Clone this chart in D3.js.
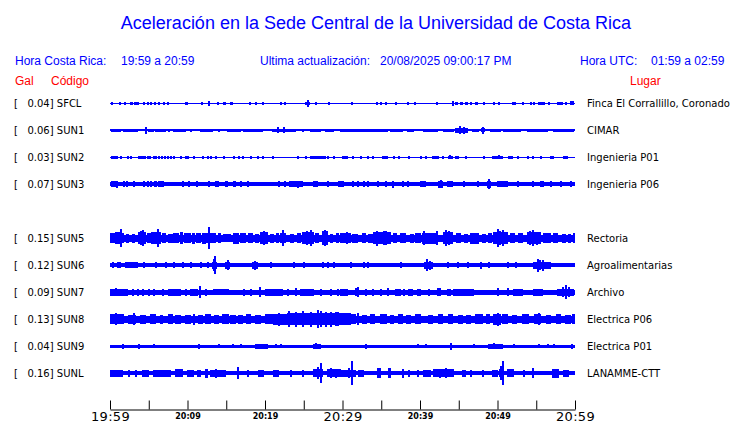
<!DOCTYPE html>
<html><head><meta charset="utf-8">
<script src="https://cdn.jsdelivr.net/npm/d3@7"></script>
<style>
body{margin:0;background:#fff;}
svg{display:block;}
text{white-space:pre;}
</style></head>
<body>
<svg id="c" width="740" height="423"></svg>
<script>
// ---- DATA ----
const title = "Aceleración en la Sede Central de la Universidad de Costa Rica";
const headerLocal = ["Hora Costa Rica:", "19:59 a 20:59"];
const headerUpdate = ["Ultima actualización:", "20/08/2025 09:00:17 PM"];
const headerUTC = ["Hora UTC:", "01:59 a 02:59"];
const codes  = ["SFCL","SUN1","SUN2","SUN3","SUN5","SUN6","SUN7","SUN8","SUN9","SUNL"];
const peaks  = [0.04, 0.06, 0.03, 0.07, 0.15, 0.12, 0.09, 0.13, 0.04, 0.16];
const places = ["Finca El Corrallillo, Coronado","CIMAR","Ingenieria P01","Ingenieria P06",
                "Rectoria","Agroalimentarias","Archivo","Electrica P06","Electrica P01","LANAMME-CTT"];
const rows   = [0,1,2,3,5,6,7,8,9,10];
// background noise half-amplitude of each trace (relative units)
const baseAmp = [0.5, 1.0, 0.5, 2.0, 3.5, 1.9, 2.2, 3.8, 1.7, 2.1];
// samples: 465 samples over the hour (one every ~7.74 s)
const nSamples = 465;
const tStart = "2025-08-20T19:59:00", tEnd = "2025-08-20T20:59:00";
const tickEveryMin = 5;
const bigTickLabels = ["19:59","20:29","20:59"];
const smallTickLabels = ["20:09","20:19","20:39","20:49"];
// events: [firstSample, lastSample, halfAmplitude]
const evSFCL = [[1,1,1.5],[9,9,1.5],[14,14,1.5],[20,22,1.5],[24,28,1.5],[33,33,1.5],[37,37,1.5],[40,40,1.5],[44,44,1.5],[48,48,1.5],[53,53,1.5],[57,57,1.5],[75,77,1.5],[91,91,1.5],[98,98,2.3],[107,107,1.5],[113,115,1.5],[120,122,1.5],[139,139,1.5],[145,145,1.5],[152,152,1.5],[170,170,1.5],[174,174,1.5],[195,199,1.5],[197,197,3.3],[205,205,1.5],[218,218,1.5],[241,241,1.5],[266,266,1.5],[270,270,1.5],[275,275,1.5],[285,285,1.5],[297,297,1.5],[304,304,1.5],[326,326,1.5],[342,342,2.5],[345,347,1.5],[350,352,1.5],[355,357,1.5],[360,360,1.5],[365,367,1.5],[373,373,1.5],[383,383,1.5],[388,388,1.5],[402,402,1.5],[404,404,1.5],[412,412,1.5],[420,420,1.5],[423,423,1.5],[428,434,1.5],[438,438,1.5],[447,452,1.5],[455,455,1.5],[460,463,2]];
const evSUN1 = [[1,10,1.5],[13,27,1.5],[35,35,3.5],[38,43,1.5],[45,55,1.5],[58,58,1.5],[63,75,1.5],[80,80,1.5],[90,102,1.5],[108,108,1.5],[117,130,1.5],[133,152,1.5],[162,185,1.5],[167,167,3],[173,173,3],[192,192,1.5],[200,210,1.5],[215,223,1.5],[230,277,1.5],[280,292,1.5],[297,303,1.5],[313,327,1.5],[333,343,1.5],[345,357,2.5],[349,349,4],[353,353,3.5],[362,368,1.5],[371,374,2],[372,372,3.5],[380,390,1.5],[393,410,1.5],[417,437,1.5],[443,463,1.5]];
const evSUN2 = [[1,7,1.5],[10,10,1.5],[17,17,1.5],[20,20,1.5],[28,35,1.5],[37,40,1.5],[43,43,1.5],[45,45,1.5],[48,48,1.5],[51,51,1.5],[54,54,1.5],[57,57,1.5],[60,60,1.5],[63,63,1.5],[70,70,1.5],[75,78,1.5],[83,83,1.5],[92,92,1.5],[97,97,1.5],[100,100,1.5],[105,105,1.5],[113,113,1.5],[123,123,1.5],[128,128,1.5],[132,133,1.5],[140,140,1.5],[147,147,1.5],[152,152,1.5],[162,162,1.5],[187,187,1.5],[195,195,1.5],[200,215,1.5],[217,217,1.5],[223,223,1.5],[232,237,1.5],[242,242,1.5],[250,250,1.5],[257,257,1.5],[262,263,1.5],[272,277,1.5],[283,283,1.5],[288,288,1.5],[298,298,1.5],[310,310,1.5],[315,315,1.5],[322,328,1.5],[332,332,1.5],[338,342,1.5],[339,339,2],[345,348,1.5],[355,355,1.5],[373,373,1.5],[382,392,1.5],[388,388,2],[398,402,1.5],[407,407,1.5],[417,417,1.5],[422,422,1.5],[430,430,1.5],[440,443,1.5],[453,457,1.5]];
const evSUN3 = [[1,7,3],[6,6,3.5],[13,13,3],[16,16,3],[23,23,3],[33,33,3],[37,37,3],[40,40,3],[44,46,3],[48,53,3],[72,73,3],[78,79,3],[86,87,3],[98,98,3],[105,108,3],[115,117,3],[123,125,3],[130,130,3],[137,137,3],[168,168,3],[174,174,3],[179,192,3],[187,187,3.5],[203,207,3],[217,217,3],[228,228,3],[230,233,3],[242,242,3],[247,247,3],[253,253,3],[257,257,3],[267,267,3],[275,275,3],[282,282,3.8],[292,292,3],[297,297,3],[310,315,3],[328,332,3.2],[330,330,4],[337,342,3],[353,353,3],[367,367,3],[377,380,3.2],[378,378,5],[387,397,3],[407,407,3],[422,422,3],[430,433,3],[440,440,3],[450,450,3],[460,460,3]];
const evSUN5 = [[0,4,5],[5,9,6],[10,10,9],[11,13,5],[16,18,4.5],[22,24,4.5],[28,35,6],[30,30,7],[32,32,8],[37,40,5],[41,43,6],[44,50,6],[47,47,9],[52,55,5],[58,62,4.5],[63,68,5],[70,72,6],[74,80,5],[82,84,5.5],[86,90,5],[92,95,5.5],[96,105,5],[98,98,11],[108,110,5],[113,120,4],[123,128,5.5],[130,135,5],[138,142,5],[145,148,4.5],[150,157,6],[153,153,7],[160,163,4.5],[166,168,5],[170,175,5],[172,172,8],[180,183,4.5],[187,190,5],[192,203,6],[196,196,7],[200,200,8],[205,208,5],[212,217,7],[214,214,8],[220,222,4.5],[226,228,5],[230,240,5],[236,236,6],[242,247,4.5],[252,255,5],[258,262,4.5],[263,280,6],[266,266,7.5],[273,273,7],[275,275,7],[283,286,5],[290,295,5],[300,303,4.5],[305,310,5],[312,327,5.5],[313,313,7],[326,326,7],[333,342,6],[335,335,8],[338,338,7],[346,350,5],[354,357,4.5],[360,368,5.5],[372,375,4.5],[378,381,5],[383,397,6],[387,387,9],[389,389,7],[392,392,8],[400,404,5],[408,412,5],[417,430,6],[419,419,7],[422,422,8],[426,426,6.5],[433,440,5],[443,447,5],[452,455,4.5],[458,460,4.5],[463,465,5]];
const evSUN6 = [[2,2,3],[7,10,3],[15,27,3],[33,33,3],[45,45,3],[55,55,3],[63,63,3],[72,72,3],[80,80,3],[90,90,3],[97,97,3],[102,106,3.5],[103,103,6],[104,104,9],[115,119,3.5],[117,117,5],[142,147,3.5],[144,144,4.5],[160,160,3],[183,183,3],[193,193,3],[212,212,3],[217,217,3],[223,223,3],[240,240,3],[253,253,3],[257,257,3],[290,290,3],[314,322,3.5],[316,316,6],[319,319,4.5],[337,337,3],[347,347,3],[357,358,3],[370,370,3.5],[378,378,3],[397,397,3],[405,405,3],[423,440,3.5],[427,427,6.5],[429,429,5],[432,432,5.5]];
const evSUN7 = [[0,17,3.2],[5,5,4],[22,22,3.5],[27,27,3.5],[32,32,3.5],[38,38,3.5],[43,43,3.5],[52,52,3.5],[58,70,3.2],[75,75,3.5],[80,87,3.2],[89,89,6],[95,95,3.5],[103,118,3],[133,133,3.5],[140,140,3.5],[149,149,5],[155,172,3.2],[177,177,3.5],[185,185,4],[190,203,3.2],[210,210,3.5],[220,220,3.5],[227,227,3.5],[230,237,3.2],[245,248,4],[247,247,5],[255,255,3.5],[262,262,3.5],[270,270,3.5],[277,278,4],[285,290,3.2],[293,293,3.5],[298,302,3.2],[307,310,3.2],[318,318,3.5],[327,330,4],[337,340,3.2],[343,352,3.8],[353,363,3.2],[387,387,4],[397,397,4],[403,412,3.2],[423,432,3.2],[447,463,3.2],[452,452,5],[455,455,7],[458,458,5]];
const evSUN8 = [[0,13,5],[5,5,6],[18,25,4.5],[23,23,6],[30,35,4.5],[40,45,5],[50,52,4.5],[58,62,5],[65,70,4.5],[75,80,4.5],[83,83,5.5],[88,92,4.5],[95,100,5],[104,108,4.5],[112,118,5],[120,125,4.5],[128,132,4.5],[136,140,5],[145,150,4.5],[155,162,5],[163,177,5.5],[168,168,6.5],[177,240,6],[178,178,8],[185,185,7.5],[192,192,8],[200,200,7.5],[207,207,9],[210,210,8],[215,215,7.5],[220,220,7.5],[225,228,7],[232,236,5],[240,245,5],[247,247,6],[252,256,4.5],[260,264,5],[270,276,5],[280,283,4.5],[288,292,5],[296,300,4.5],[305,310,5],[318,322,4.5],[328,332,5],[338,342,5],[348,352,4.5],[356,360,4.5],[365,372,5],[376,379,5],[383,390,5.5],[387,387,6.5],[392,397,5],[402,406,4.5],[412,418,5],[424,430,5],[428,428,6],[436,440,4.5],[446,450,5],[455,460,4.5],[462,465,5]];
const evSUN9 = [[12,12,2.2],[28,28,2.2],[43,43,2],[88,88,2.5],[108,108,2],[122,122,2],[130,130,2],[145,157,2.2],[165,165,2],[170,170,2],[203,210,2.5],[205,205,3],[255,255,2.5],[307,307,2],[315,315,2],[340,340,3.5],[363,363,2],[378,392,2.3],[383,383,3],[403,403,2],[428,428,2],[437,437,2],[443,443,2],[461,461,2.2]];
const evSUNL = [[0,12,3.5],[18,18,3.5],[25,25,3.5],[32,38,3.5],[43,60,3.5],[65,72,4],[77,83,3.5],[87,90,3.5],[95,97,4.5],[100,115,3.5],[105,105,4.5],[127,127,6],[137,137,3.5],[148,153,3.5],[163,168,3.5],[180,180,3.5],[192,192,3.5],[203,212,4],[207,207,6],[210,210,10],[217,230,4],[220,220,5],[225,225,4.5],[230,245,3.5],[238,238,5],[241,241,12],[248,253,3.5],[267,270,5],[278,280,5],[292,293,4.5],[298,298,3.5],[307,307,3.5],[313,320,3.5],[323,343,4],[329,329,4.5],[335,335,5],[352,355,3.5],[360,360,3.5],[372,372,3.5],[382,387,3.5],[389,393,4],[390,390,7],[392,392,12],[397,403,4],[413,413,3.5],[422,422,5],[442,448,4.5],[453,458,3.5]];
const events = [evSFCL, evSUN1, evSUN2, evSUN3, evSUN5, evSUN6, evSUN7, evSUN8, evSUN9, evSUNL];

// ---- DRAW ----
const svg = d3.select("#c");
const blue = "#0000ff", red = "#ff0000";
const sansA = "'Liberation Sans', Arial, Helvetica, sans-serif";
const sansD = "'DejaVu Sans', sans-serif";

const xS = d3.scaleLinear().domain([0, nSamples]).range([110, 575]);
const t0 = new Date(tStart), t1 = new Date(tEnd);
const xT = d3.scaleTime().domain([t0, t1]).range([110, 575]);
const yRow = d3.scaleLinear().domain([0, 10]).range([103.3, 373.3]);
const amp = d3.scaleLinear().domain([0, 10]).range([0, 10]);

svg.append("text").attr("x", 376).attr("y", 29).attr("text-anchor", "middle")
  .attr("font-family", sansA).attr("font-size", 18).attr("fill", blue).text(title);

function hdr(x, y, s, col, anchor) {
  svg.append("text").attr("x", x).attr("y", y).attr("font-family", sansA).attr("font-size", 12)
    .attr("fill", col).attr("text-anchor", anchor || "start").text(s);
}
hdr(15, 64.5, headerLocal[0], blue); hdr(121, 64.5, headerLocal[1], blue);
hdr(260, 64.5, headerUpdate[0], blue); hdr(380, 64.5, headerUpdate[1], blue);
hdr(580, 64.5, headerUTC[0], blue); hdr(651, 64.5, headerUTC[1], blue);
hdr(15, 84.5, "Gal", red); hdr(51, 84.5, "Código", red); hdr(630, 84.5, "Lugar", red);

const tr = svg.append("g").attr("shape-rendering", "crispEdges");
codes.forEach((c, i) => {
  const yc = yRow(rows[i]);
  svg.append("text").attr("x", 14).attr("y", yc + 3.8).attr("font-family", sansD).attr("font-size", 10)
    .attr("fill", "#000").text("[   " + peaks[i].toFixed(2) + "] " + c);
  svg.append("text").attr("x", 587).attr("y", yc + 3.8).attr("font-family", sansD).attr("font-size", 10)
    .attr("fill", "#000").text(places[i]);
  const g = tr.append("g");
  const b = Math.max(0.5, amp(baseAmp[i]));
  g.append("rect").attr("x", xS(0)).attr("width", xS(nSamples) - xS(0))
    .attr("y", yc - b).attr("height", 2 * b).attr("fill", blue);
  g.selectAll("rect.ev").data(events[i]).join("rect").attr("class", "ev")
    .attr("x", d => xS(d[0]))
    .attr("width", d => Math.min(xS(nSamples), xS(d[1] + 1)) - xS(d[0]) + (d[0] === d[1] ? 0.6 : 0))
    .attr("y", d => yc - amp(d[2])).attr("height", d => 2 * amp(d[2])).attr("fill", blue);
});

// time axis
const fmt = d3.timeFormat("%H:%M");
const tickVals = d3.range(0, 61, tickEveryMin).map(m => d3.timeMinute.offset(t0, m));
const axis = d3.axisBottom(xT).tickValues(tickVals).tickSizeInner(-9).tickSizeOuter(0)
  .tickPadding(3).tickFormat(fmt);
const ag = svg.append("g").attr("transform", "translate(0,409.5)").call(axis);
ag.select(".domain").attr("stroke", "#000");
ag.selectAll(".tick line").attr("stroke", "#000");
ag.selectAll(".tick").each(function(d) {
  const t = d3.select(this).select("text");
  const lab = fmt(d);
  t.attr("fill", "#000").attr("font-family", sansD);
  if (bigTickLabels.includes(lab)) {
    t.attr("font-size", 13).attr("dy", null).attr("y", 11).attr("letter-spacing", 0.3);
  } else if (smallTickLabels.includes(lab)) {
    t.attr("font-size", 8).attr("font-weight", "bold").attr("dy", null).attr("y", 9);
  } else {
    t.text("");
  }
});
</script>
</body></html>
